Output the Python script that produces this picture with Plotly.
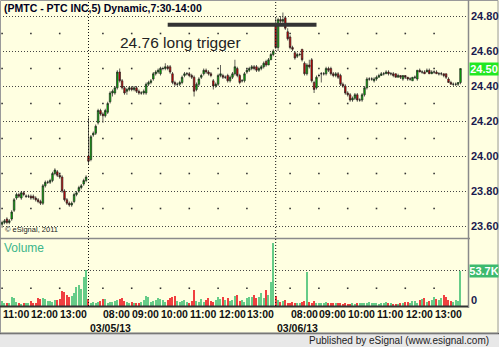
import plotly.graph_objects as go

W, H = 499, 347

# ---------------- data ----------------
# 5-minute bars, session 7:30-14:00. Day 1 (03/04) from 11:00, day 2 (03/05), day 3 (03/06)
open_d1 = [23.61,23.62,23.64,23.62,23.64,23.69,23.76,23.78,23.76,23.79,23.77,23.77,23.77,23.77,23.76,23.75,23.74,23.73,
           23.83,23.85,23.85,23.86,23.90,23.91,23.89,23.88,23.80,23.75,23.73,23.72,23.74,23.78,23.80,23.82,23.84,23.86]
high_d1 = [23.63,23.64,23.65,23.64,23.69,23.76,23.79,23.79,23.80,23.80,23.78,23.78,23.78,23.78,23.77,23.76,23.75,23.84,
           23.86,23.86,23.87,23.91,23.93,23.92,23.90,23.89,23.81,23.76,23.74,23.74,23.79,23.80,23.83,23.84,23.87,23.89]
low_d1  = [23.59,23.61,23.61,23.61,23.63,23.68,23.75,23.76,23.75,23.77,23.76,23.76,23.75,23.75,23.74,23.73,23.72,23.72,
           23.82,23.84,23.84,23.85,23.89,23.88,23.87,23.79,23.74,23.72,23.71,23.71,23.73,23.77,23.79,23.81,23.83,23.85]
close_d1 = [23.62,23.63,23.62,23.63,23.68,23.75,23.78,23.77,23.79,23.78,23.77,23.77,23.76,23.76,23.75,23.74,23.73,23.83,
            23.85,23.85,23.86,23.90,23.92,23.89,23.88,23.80,23.75,23.73,23.72,23.73,23.78,23.79,23.82,23.83,23.86,23.88]

open_d2 = [24.00,23.98,24.12,24.13,24.19,24.26,24.24,24.23,24.25,24.31,24.36,24.36,24.39,24.48,24.43,24.39,24.37,24.38,24.39,24.38,
           24.39,24.37,24.36,24.36,24.36,24.41,24.42,24.44,24.47,24.48,24.47,24.50,24.50,24.51,24.51,24.47,24.42,24.41,24.41,24.42,
           24.46,24.47,24.47,24.46,24.45,24.38,24.41,24.45,24.47,24.49,24.48,24.47,24.43,24.40,24.41,24.46,24.46,24.45,24.46,24.43,
           24.45,24.47,24.50,24.46,24.43,24.43,24.48,24.49,24.50,24.51,24.51,24.49,24.50,24.51,24.54,24.52,24.55,24.58]
high_d2 = [24.22,24.12,24.14,24.18,24.27,24.27,24.25,24.27,24.31,24.37,24.38,24.40,24.49,24.50,24.44,24.40,24.39,24.40,24.40,24.40,
           24.40,24.38,24.37,24.38,24.42,24.43,24.44,24.48,24.49,24.50,24.51,24.51,24.53,24.52,24.52,24.48,24.43,24.42,24.43,24.46,
           24.48,24.48,24.48,24.47,24.46,24.42,24.45,24.47,24.50,24.50,24.49,24.48,24.44,24.42,24.47,24.52,24.47,24.46,24.47,24.46,
           24.48,24.55,24.51,24.47,24.44,24.48,24.50,24.51,24.52,24.52,24.52,24.51,24.52,24.54,24.55,24.56,24.59,24.61]
low_d2  = [23.95,23.97,24.11,24.12,24.18,24.23,24.19,24.22,24.24,24.30,24.34,24.35,24.38,24.42,24.38,24.35,24.35,24.37,24.37,24.37,
           24.36,24.35,24.35,24.35,24.35,24.40,24.41,24.43,24.46,24.47,24.46,24.49,24.49,24.49,24.47,24.41,24.40,24.40,24.40,24.41,
           24.45,24.46,24.45,24.44,24.34,24.37,24.40,24.44,24.46,24.47,24.46,24.45,24.38,24.39,24.40,24.45,24.44,24.44,24.42,24.42,
           24.44,24.46,24.45,24.41,24.42,24.42,24.47,24.48,24.49,24.49,24.48,24.48,24.49,24.50,24.51,24.52,24.55,24.57]
close_d2 = [23.97,24.11,24.13,24.17,24.26,24.24,24.23,24.26,24.30,24.36,24.37,24.39,24.48,24.43,24.39,24.36,24.38,24.39,24.38,24.39,
            24.37,24.36,24.36,24.37,24.41,24.42,24.43,24.47,24.48,24.49,24.50,24.50,24.51,24.50,24.48,24.42,24.41,24.41,24.42,24.45,
            24.47,24.47,24.46,24.45,24.37,24.41,24.44,24.46,24.49,24.48,24.47,24.46,24.40,24.41,24.46,24.47,24.45,24.45,24.43,24.45,
            24.47,24.51,24.46,24.42,24.43,24.47,24.49,24.50,24.51,24.50,24.49,24.50,24.51,24.53,24.52,24.55,24.58,24.60]

open_d3 = [24.75,24.62,24.78,24.77,24.79,24.71,24.68,24.62,24.59,24.57,24.58,24.61,24.53,24.47,24.52,24.55,24.42,24.39,24.46,24.47,
           24.47,24.47,24.50,24.50,24.47,24.46,24.47,24.46,24.41,24.40,24.36,24.35,24.32,24.33,24.35,24.32,24.32,24.35,24.39,24.44,
           24.44,24.43,24.44,24.45,24.46,24.47,24.47,24.48,24.47,24.47,24.47,24.45,24.46,24.44,24.46,24.45,24.44,24.43,24.45,24.44,
           24.49,24.48,24.48,24.48,24.49,24.47,24.48,24.48,24.47,24.47,24.47,24.47,24.44,24.42,24.41,24.41,24.41,24.42]
high_d3 = [24.79,24.79,24.80,24.82,24.80,24.73,24.69,24.63,24.60,24.59,24.59,24.61,24.54,24.53,24.55,24.56,24.43,24.46,24.47,24.48,
           24.48,24.51,24.51,24.51,24.48,24.48,24.48,24.47,24.42,24.41,24.37,24.36,24.34,24.36,24.36,24.33,24.36,24.40,24.45,24.45,
           24.45,24.45,24.46,24.47,24.48,24.48,24.49,24.49,24.48,24.48,24.47,24.47,24.46,24.46,24.46,24.45,24.45,24.45,24.46,24.49,
           24.50,24.49,24.49,24.50,24.50,24.49,24.49,24.49,24.48,24.48,24.47,24.47,24.45,24.43,24.42,24.42,24.42,24.50]
low_d3  = [24.61,24.60,24.75,24.76,24.72,24.66,24.61,24.60,24.55,24.56,24.57,24.54,24.46,24.46,24.50,24.42,24.36,24.38,24.45,24.42,
           24.46,24.46,24.48,24.46,24.45,24.45,24.44,24.40,24.39,24.35,24.34,24.31,24.31,24.32,24.31,24.31,24.31,24.34,24.38,24.43,
           24.43,24.42,24.43,24.45,24.46,24.46,24.47,24.46,24.46,24.45,24.45,24.45,24.44,24.43,24.44,24.43,24.43,24.43,24.44,24.43,
           24.48,24.47,24.47,24.48,24.47,24.47,24.47,24.47,24.46,24.46,24.45,24.44,24.42,24.41,24.40,24.40,24.40,24.41]
close_d3 = [24.62,24.78,24.77,24.78,24.73,24.67,24.62,24.61,24.56,24.58,24.58,24.55,24.47,24.52,24.51,24.43,24.38,24.45,24.46,24.47,
            24.47,24.50,24.49,24.47,24.46,24.47,24.45,24.41,24.40,24.36,24.35,24.32,24.33,24.35,24.32,24.32,24.35,24.39,24.44,24.44,
            24.44,24.44,24.45,24.46,24.47,24.47,24.48,24.47,24.47,24.46,24.45,24.46,24.45,24.46,24.45,24.44,24.44,24.45,24.45,24.49,
            24.48,24.48,24.47,24.49,24.47,24.48,24.48,24.47,24.47,24.47,24.46,24.45,24.42,24.41,24.41,24.41,24.42,24.50]

# volume in thousands of shares
vol_d1 = [7.5,4.5,4.5,4.5,13.5,12,6,4.5,3,4.5,4.5,4.5,7.5,4.5,4.5,12,10.5,12,10.5,7.5,
          7.5,6,9,9,10.5,22.5,21,16.5,13.5,15,19.5,28.5,31.5,25.5,43.5,54]
vol_d2 = [10.5,4.5,6,4.5,6,7.5,10.5,10.5,4.5,6,6,7.5,9,10.5,12,7.5,6,4.5,6,4.5,
          4.5,4.5,6,9,15,13.5,6,7.5,9,12,10.5,9,6,9,12,13.5,15,7.5,6,7.5,
          9,6,4.5,7.5,24,7.5,6,10.5,6,9,12,7.5,6,9,13.5,10.5,13.5,9,12,7.5,
          9,15,16.5,7.5,9,6,12,13.5,13.5,16.5,12,13.5,19.5,12,24,16.5,36,95]
vol_d3 = [15,9,6,7.5,9,4.5,4.5,6,4.5,4.5,4.5,6,7.5,51,6,4.5,7.5,4.5,4.5,4.5,
          4.5,6,4.5,4.5,4.5,4.5,4.5,4.5,3,4.5,3,3,4.5,3,4.5,4.5,4.5,4.5,4.5,6,
          4.5,4.5,4.5,3,4.5,4.5,6,4.5,4.5,3,3,3,4.5,4.5,6,6,4.5,7.5,7.5,4.5,
          9,10.5,12,6,7.5,9,13.5,10.5,9,12,16.5,13.5,9,7.5,6,9,7.5,53.7]

day_start_bars = [36, 114]
day_labels = ["03/05/13", "03/06/13"]
hour_tick_bars = [0, 12, 24, 42, 54, 66, 78, 90, 102, 120, 132, 144, 156, 168, 180]
hour_tick_labels = ["11:00", "12:00", "13:00", "08:00", "09:00", "10:00", "11:00", "12:00", "13:00",
                    "08:00", "09:00", "10:00", "11:00", "12:00", "13:00"]
price_ticks = [24.80, 24.60, 24.40, 24.20, 24.00, 23.80, 23.60]
price_half_levels = [24.70, 24.50, 24.30, 24.10, 23.90, 23.70]
vol_tick = 53.7
trigger_price = 24.75
trigger_bars = [69, 131]
title_text = "(PMTC - PTC INC,5) Dynamic,7:30-14:00"
note_text = "24.76 long trigger"

# ---------------- build ----------------
o = open_d1 + open_d2 + open_d3
h = high_d1 + high_d2 + high_d3
l = low_d1 + low_d2 + low_d3
c = close_d1 + close_d2 + close_d3
v = vol_d1 + vol_d2 + vol_d3
idx = list(range(len(c)))

def px(x):
    return x / W

def py(y):
    return 1 - y / H

BG = "#FFFFE1"
PLOT_R = 468  # px right edge of plotting area
bar_px = 2.4
x0_px = 2.1
x_range = [(0 - x0_px) / bar_px, (PLOT_R - x0_px) / bar_px]

# price axis: 24.80 at y=16px, 35px per 0.20
def price_at(ypx):
    return 24.80 - (ypx - 16) / 175.0

PRICE_BOTTOM = 238
VOL_BOTTOM = 306
vol_per_px = 53.7 / 35.5

fig = go.Figure()

fig.add_trace(go.Candlestick(
    x=idx, open=o, high=h, low=l, close=c,
    increasing=dict(line=dict(color="#202020", width=0.7), fillcolor="#00C400"),
    decreasing=dict(line=dict(color="#202020", width=0.7), fillcolor="#E00000"),
    whiskerwidth=0, xaxis="x", yaxis="y", showlegend=False, hoverinfo="skip"))

vcol = ["#66CC88" if cc >= oo else "#F04040" for oo, cc in zip(o, c)]
fig.add_trace(go.Bar(x=idx, y=v, marker=dict(color=vcol, line=dict(width=0)), width=0.55,
                     xaxis="x2", yaxis="y2", showlegend=False, hoverinfo="skip"))

# grid dots at hour ticks
dx, dy = [], []
for b in hour_tick_bars:
    for lv in price_half_levels:
        dx.append(b); dy.append(lv)
fig.add_trace(go.Scatter(x=dx, y=dy, mode="markers", marker=dict(symbol="square", size=1.6, color="#333"),
                         xaxis="x", yaxis="y", showlegend=False, hoverinfo="skip"))
fig.add_trace(go.Scatter(x=hour_tick_bars, y=[vol_tick / 2] * len(hour_tick_bars), mode="markers",
                         marker=dict(symbol="square", size=1.6, color="#333"),
                         xaxis="x2", yaxis="y2", showlegend=False, hoverinfo="skip"))

shapes = []
# footer
shapes.append(dict(type="rect", xref="paper", yref="paper", x0=0, x1=1, y0=0, y1=py(333),
                   fillcolor="#E8E8E8", line=dict(width=0), layer="below"))
shapes.append(dict(type="line", xref="paper", yref="paper", x0=0, x1=1, y0=py(333.5), y1=py(333.5),
                   line=dict(color="#555", width=1.5)))
# outer frame
shapes.append(dict(type="rect", xref="paper", yref="paper", x0=px(0.5), x1=px(498), y0=py(333), y1=py(0.5),
                   line=dict(color="#9A9A9A", width=1)))
# right axis line
shapes.append(dict(type="line", xref="paper", yref="paper", x0=px(PLOT_R + 0.5), x1=px(PLOT_R + 0.5),
                   y0=py(308), y1=py(0), line=dict(color="#8A8A8A", width=1.5)))
# panel separator
shapes.append(dict(type="line", xref="paper", yref="paper", x0=0, x1=px(PLOT_R + 2), y0=py(238.5), y1=py(238.5),
                   line=dict(color="#8A8A8A", width=1.5)))
# volume baseline
shapes.append(dict(type="line", xref="paper", yref="paper", x0=0, x1=px(PLOT_R), y0=py(306.5), y1=py(306.5),
                   line=dict(color="#333", width=2)))
# day separators
for b in day_start_bars:
    shapes.append(dict(type="line", xref="x", yref="paper", x0=b, x1=b, y0=py(306), y1=py(1),
                       line=dict(color="#111", width=1, dash="1px,2px")))
# trigger line
shapes.append(dict(type="line", xref="x", yref="y", x0=trigger_bars[0], x1=trigger_bars[1],
                   y0=trigger_price, y1=trigger_price, line=dict(color="#333", width=4)))

ann = []
FONT = "Liberation Sans"
ann.append(dict(text="<b>%s</b>" % title_text, xref="paper", yref="paper", x=px(1.5), y=py(8),
                xanchor="left", yanchor="middle", showarrow=False,
                font=dict(family=FONT, size=10.5, color="#000020")))
ann.append(dict(text=note_text, xref="paper", yref="paper", x=px(118), y=py(43),
                xanchor="left", yanchor="middle", showarrow=False,
                font=dict(family=FONT, size=15.5, color="#222")))
ann.append(dict(text="\u00a9 eSignal, 2011", xref="paper", yref="paper", x=px(3), y=py(229.5),
                xanchor="left", yanchor="middle", showarrow=False,
                font=dict(family=FONT, size=7.5, color="#222")))
ann.append(dict(text="Volume", xref="paper", yref="paper", x=px(1.5), y=py(248),
                xanchor="left", yanchor="middle", showarrow=False,
                font=dict(family=FONT, size=12, color="#3CB58A")))
for p in price_ticks:
    ann.append(dict(text="<b>%.2f</b>" % p, xref="paper", yref="y", x=px(469), y=p,
                    xanchor="left", yanchor="middle", showarrow=False,
                    font=dict(family=FONT, size=11, color="#1A1A4E")))
ann.append(dict(text="<b>%.2f</b>" % c[-1], xref="paper", yref="y", x=px(469), y=c[-1],
                xanchor="left", yanchor="middle", showarrow=False, bgcolor="#22E822",
                width=28, height=12, borderpad=0,
                font=dict(family=FONT, size=11, color="#FFFFFF")))
ann.append(dict(text="<b>%.1fK</b>" % v[-1], xref="paper", yref="y2", x=px(469), y=v[-1],
                xanchor="left", yanchor="middle", showarrow=False, bgcolor="#3DBA6E",
                width=28, height=12, borderpad=0,
                font=dict(family=FONT, size=11, color="#FFFFFF")))
ann.append(dict(text="<b>0</b>", xref="paper", yref="paper", x=px(469), y=py(300),
                xanchor="left", yanchor="middle", showarrow=False,
                font=dict(family=FONT, size=11, color="#1A1A4E")))
for b, t in zip(hour_tick_bars, hour_tick_labels):
    ann.append(dict(text="<b>%s</b>" % t, xref="x", yref="paper", x=b, y=py(313.5),
                    xanchor="left", yanchor="middle", showarrow=False, xshift=-1.5,
                    font=dict(family=FONT, size=10.5, color="#111")))
for b, t in zip(day_start_bars, day_labels):
    ann.append(dict(text="<b>%s</b>" % t, xref="x", yref="paper", x=b, y=py(327.5),
                    xanchor="left", yanchor="middle", showarrow=False, xshift=-1,
                    font=dict(family=FONT, size=10.5, color="#111")))
ann.append(dict(text="Published by eSignal (www.esignal.com)", xref="paper", yref="paper", x=px(491), y=py(340.5),
                xanchor="right", yanchor="middle", showarrow=False,
                font=dict(family=FONT, size=10, color="#222")))

fig.update_layout(
    width=W, height=H, margin=dict(l=0, r=0, t=0, b=0),
    paper_bgcolor=BG, plot_bgcolor=BG,
    boxgap=0.1, bargap=0,
    showlegend=False,
    xaxis=dict(domain=[0, PLOT_R / W], range=x_range, anchor="y", visible=False,
               rangeslider=dict(visible=False), fixedrange=True),
    xaxis2=dict(domain=[0, PLOT_R / W], range=x_range, anchor="y2", visible=False,
                matches="x", fixedrange=True),
    yaxis=dict(domain=[py(PRICE_BOTTOM), 1.0], range=[price_at(PRICE_BOTTOM), price_at(0)],
               tickvals=price_ticks, showticklabels=False, showgrid=True, gridcolor="#444",
               gridwidth=1, griddash="1px,2px", zeroline=False, showline=False, ticks="", fixedrange=True),
    yaxis2=dict(domain=[py(VOL_BOTTOM), py(PRICE_BOTTOM)],
                range=[0, (VOL_BOTTOM - PRICE_BOTTOM) * vol_per_px],
                tickvals=[vol_tick], showticklabels=False, showgrid=True, gridcolor="#444",
                gridwidth=1, griddash="1px,2px", zeroline=False, showline=False, ticks="", fixedrange=True),
    shapes=shapes, annotations=ann,
)

fig.write_html("out.html")
